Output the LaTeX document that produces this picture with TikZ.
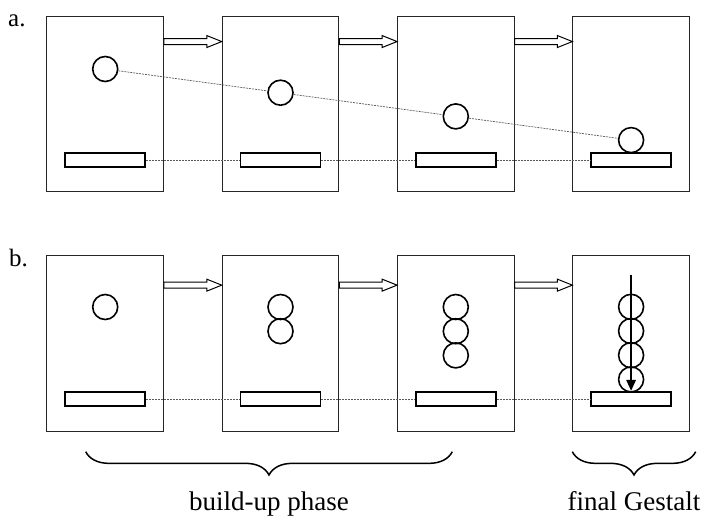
\documentclass[tikz,border=0pt]{standalone}
\usepackage{fontspec}
\setmainfont{Liberation Serif}
\usetikzlibrary{calc,arrows.meta,decorations.pathreplacing}

% hollow block arrow from point #1 to tip #2 (both named coordinates)
\newcommand\flowarrow[2]{%
  \draw[flow] ($(#1)+(0,-3)$) -- ($(#2)+(-15,-3)$) -- ($(#2)+(-15,-6)$)
    -- (#2) -- ($(#2)+(-15,6)$) -- ($(#2)+(-15,3)$) -- ($(#1)+(0,3)$) -- cycle;}

\begin{document}
\begin{tikzpicture}[x=1pt,y=-1pt,
  panel/.style={draw=black!85,line width=1pt,minimum width=116.5pt,
    minimum height=175.5pt,inner sep=0pt},
  ball/.style={circle,draw,line width=1.6pt,minimum size=25pt,inner sep=0pt},
  bar/.style={rectangle,draw,line width=1.8pt,minimum width=80pt,
    minimum height=14.5pt,inner sep=0pt},
  guide/.style={draw=black!65,line width=0.7pt,dash pattern=on 2pt off 1pt},
  flow/.style={draw=black,fill=white,line width=1pt},
  drop/.style={line width=1.7pt,-{Triangle[length=11pt,width=9.5pt]}},
  curly/.style={line width=1.5pt,decorate,
    decoration={brace,mirror,amplitude=23.3pt}},
  rowlabel/.style={font=\fontsize{25}{28}\selectfont,anchor=base west,inner sep=0pt},
  caption/.style={font=\fontsize{27}{30}\selectfont,anchor=base,inner sep=0pt}]
\useasboundingbox (0,0) rectangle (704,516);

% ---------- row a: falling ball ----------
\node[rowlabel] (la) at (8,27) {a.};
\foreach \i/\x in {1/105.2,2/280.5,3/455.8,4/631.1}{
  \node[panel] (p\i a) at (\x,103.8) {};
  \node[bar] (r\i a) at (\x,160) {};
}
\node[ball] (c1a) at (105.2,69) {};
\node[ball] (c2a) at (280.5,92.7) {};
\node[ball] (c3a) at (455.8,116.4) {};
\node[ball] (c4a) at (631.1,140.1) {};

\draw[guide] (c1a) -- (c2a);
\draw[guide] (c2a) -- (c3a);
\draw[guide] (c3a) -- (c4a);
\draw[guide] (r1a) -- (r2a);
\draw[guide] (r2a) -- (r3a);
\draw[guide] (r3a) -- (r4a);

\foreach \i/\j in {1/2,2/3,3/4}{
  \coordinate (ta\i) at ($(p\i a.north east)+(0,26)$);
  \coordinate (ha\i) at (p\j a.west |- ta\i);
  \flowarrow{ta\i}{ha\i}
}

% ---------- row b: stacking balls ----------
\node[rowlabel] (lb) at (9,266) {b.};
\foreach \i/\x in {1/105.2,2/280.5,3/455.8,4/631.1}{
  \node[panel] (p\i b) at (\x,343.4) {};
  \node[bar] (r\i b) at (\x,399) {};
}
\node[ball] (b11) at (105.2,307) {};
\foreach \k in {0,1}{\node[ball] (b2\k) at (280.5,307+24.2*\k) {};}
\foreach \k in {0,1,2}{\node[ball] (b3\k) at (455.8,307+24.2*\k) {};}
\foreach \k in {0,1,2,3}{\node[ball] (b4\k) at (631.1,306.8+24.2*\k) {};}

\draw[guide] (r1b) -- (r2b);
\draw[guide] (r2b) -- (r3b);
\draw[guide] (r3b) -- (r4b);

\foreach \i/\j in {1/2,2/3,3/4}{
  \coordinate (tb\i) at ($(p\i b.north east)+(0,30)$);
  \coordinate (hb\i) at (p\j b.west |- tb\i);
  \flowarrow{tb\i}{hb\i}
}

\coordinate (droptop) at ($(p4b.north)+(0,19.5)$);
\draw[drop] (droptop) -- (r4b.north);

% ---------- braces and captions ----------
\coordinate (bs1) at (85.7,451.7);
\coordinate (be1) at (452.3,451.7);
\coordinate (bs2) at (572.3,451.7);
\coordinate (be2) at (695.7,451.7);
\draw[curly] (bs1) -- (be1);
\draw[curly] (bs2) -- (be2);
\node[caption] (cap1) at (269,510) {build-up phase};
\node[caption] (cap2) at (634,510) {final Gestalt};
\end{tikzpicture}
\end{document}
